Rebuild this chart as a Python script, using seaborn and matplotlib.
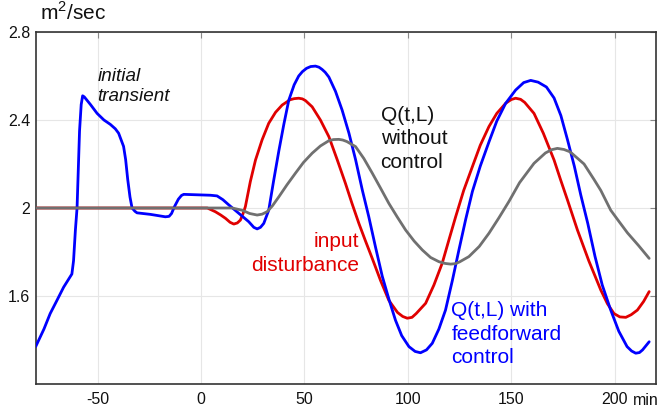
import matplotlib
matplotlib.use("Agg")
import matplotlib.pyplot as plt
import pandas as pd
import seaborn as sns

# Input disturbance entering the channel
t_input = [-80, 3, 6.9, 9.5, 11.8, 14, 15.8, 17.5, 19, 20.3, 21.4, 23.8, 26.3, 29.5,
           32.7, 36, 39.2, 43, 45, 47.2, 49, 50.5, 53.7, 57.7, 61.8, 65.8, 69.8, 73,
           76.3, 79.5, 82.8, 86.8, 90.8, 95, 97.5, 99.7, 102, 104, 108.6, 112.6,
           116.6, 120, 123.1, 127, 131.2, 135, 139.2, 143, 147.3, 150, 152.1, 154.5,
           156.5, 161, 165.5, 170.7, 173.9, 177.2, 182, 187.5, 193.3, 196.5, 199.7,
           202.5, 205.4, 208, 211, 214, 216.7]
q_input = [2.0, 2.0, 1.983, 1.968, 1.953, 1.935, 1.927, 1.932, 1.945, 1.975, 2.006,
           2.12, 2.218, 2.31, 2.385, 2.435, 2.468, 2.492, 2.497, 2.499, 2.496, 2.488,
           2.46, 2.40, 2.324, 2.22, 2.112, 2.02, 1.93, 1.85, 1.77, 1.67, 1.58, 1.525,
           1.507, 1.499, 1.503, 1.52, 1.567, 1.65, 1.749, 1.86, 1.96, 2.08, 2.188,
           2.285, 2.37, 2.43, 2.476, 2.493, 2.499, 2.494, 2.48, 2.43, 2.34, 2.218,
           2.127, 2.036, 1.90, 1.76, 1.627, 1.565, 1.52, 1.505, 1.503, 1.515, 1.536,
           1.575, 1.62]

# Downstream discharge Q(t,L) with feedforward control
t_ff = [-80, -76, -73, -70, -66.5, -63.5, -62.5, -61.7, -60.8, -60, -58.8, -58,
        -57.3, -56.5, -53.5, -50.3, -47, -43.9, -41.5, -39.9, -38.7, -37.5, -36.5,
        -35.5, -34.4, -33.4, -32, -31, -24.5, -17.3, -15.5, -14.3, -12.9, -11,
        -9.5, -8.4, 4.5, 7.7, 10.5, 13.4, 18.2, 23, 25.5, 27.1, 28.7, 30.3, 32.7,
        35, 37.6, 40, 42.4, 45, 47.2, 49, 51, 53, 55.3, 57, 58.5, 60, 61.8, 65,
        68.2, 71.5, 74.7, 78, 81.1, 84.4, 87.6, 91, 94, 97, 100.5, 103.5, 106.1,
        109, 111.8, 115, 118.2, 121.5, 124.7, 128, 131.2, 135, 139.2, 143, 147.3,
        152.1, 156, 159.4, 163, 167, 170.7, 174, 177.2, 180.5, 183.6, 187, 190.5,
        194, 198.1, 202, 206, 208.2, 210.2, 212, 213.5, 216.7]
q_ff = [1.37, 1.45, 1.52, 1.575, 1.64, 1.685, 1.70, 1.76, 1.90, 2.0, 2.35, 2.47,
        2.51, 2.505, 2.47, 2.43, 2.40, 2.38, 2.36, 2.34, 2.31, 2.28, 2.22, 2.13,
        2.05, 2.0, 1.985, 1.978, 1.971, 1.96, 1.962, 1.975, 2.006, 2.04, 2.057,
        2.062, 2.058, 2.055, 2.038, 2.014, 1.976, 1.938, 1.912, 1.905, 1.912,
        1.93, 1.99, 2.12, 2.26, 2.38, 2.49, 2.56, 2.60, 2.62, 2.635, 2.643, 2.645,
        2.64, 2.63, 2.617, 2.595, 2.53, 2.445, 2.34, 2.22, 2.08, 1.96, 1.82, 1.69,
        1.58, 1.49, 1.42, 1.37, 1.348, 1.342, 1.355, 1.385, 1.45, 1.536, 1.67,
        1.81, 1.95, 2.075, 2.19, 2.30, 2.395, 2.476, 2.536, 2.57, 2.58, 2.572,
        2.55, 2.50, 2.42, 2.31, 2.19, 2.06, 1.93, 1.78, 1.65, 1.536, 1.44, 1.37,
        1.35, 1.34, 1.343, 1.355, 1.392]

# Downstream discharge Q(t,L) without control
t_nc = [-80, 15, 19.8, 23.5, 27.1, 29.5, 31.9, 34.5, 37.6, 41.5, 45.6, 49.5, 53.7,
        57.7, 61.8, 64, 66.6, 68.5, 70.5, 74.7, 78.7, 82.8, 86.8, 90.8, 94.8, 98.9,
        103, 107, 111, 115, 118, 120.7, 123, 125, 129.5, 134.5, 139.2, 144, 148.9,
        154, 161, 166.5, 169.5, 172.3, 175.5, 178.5, 185.2, 190, 193.3, 198.1,
        202, 206.2, 211.5, 216.7]
q_nc = [2.0, 2.0, 1.99, 1.975, 1.968, 1.972, 1.983, 2.01, 2.051, 2.105, 2.158,
        2.207, 2.249, 2.282, 2.306, 2.311, 2.312, 2.309, 2.302, 2.279, 2.225,
        2.158, 2.09, 2.021, 1.96, 1.90, 1.85, 1.809, 1.775, 1.756, 1.748, 1.745,
        1.747, 1.755, 1.779, 1.825, 1.885, 1.955, 2.03, 2.115, 2.203, 2.25, 2.265,
        2.271, 2.266, 2.255, 2.20, 2.13, 2.08, 1.99, 1.94, 1.887, 1.83, 1.771]

x_ticks = [-50, 0, 50, 100, 150, 200]
x_tick_labels = ["-50", "0", "50", "100", "150", "200"]
y_ticks = [1.6, 2.0, 2.4, 2.8]
y_tick_labels = ["1.6", "2", "2.4", "2.8"]

sns.set_style("white")
plt.rcParams["font.family"] = ["Liberation Sans", "DejaVu Sans"]
plt.rcParams["mathtext.fontset"] = "custom"
plt.rcParams["mathtext.rm"] = "Liberation Sans"

fig = plt.figure(figsize=(6.58, 4.16), dpi=100)
ax = fig.add_axes([35.7 / 658, 1 - 384 / 416, (656 - 35.7) / 658, (384 - 32) / 416])

df_in = pd.DataFrame({"t": t_input, "q": q_input})
df_ff = pd.DataFrame({"t": t_ff, "q": q_ff})
df_nc = pd.DataFrame({"t": t_nc, "q": q_nc})

lw = 2.0
line_kw = dict(ax=ax, x="t", y="q", lw=lw, sort=False, estimator=None)
line_kw["solid_joinstyle"] = "round"
sns.lineplot(data=df_in, color="#e00000", zorder=3, **line_kw)
sns.lineplot(data=df_ff, color="#0000ff", zorder=4, **line_kw)
sns.lineplot(data=df_nc, color="#707070", zorder=5, **line_kw)

ax.set_xlim(-80, 220)
ax.set_ylim(1.2, 2.8)
ax.set_xticks(x_ticks)
ax.set_xticklabels(x_tick_labels)
ax.set_yticks(y_ticks)
ax.set_yticklabels(y_tick_labels)
ax.set_xlabel("")
ax.set_ylabel("")

ax.grid(True, color="#e6e6e6", lw=0.8, zorder=0)
ax.set_axisbelow(True)
for s in ax.spines.values():
    s.set_visible(True)
    s.set_color("#333333")
    s.set_linewidth(1.2)
ax.tick_params(direction="in", length=4, width=0.8, color="#888888",
               top=True, right=True, labelsize=11.5, labelcolor="#111111")
ax.tick_params(axis="x", pad=6)
ax.tick_params(axis="y", pad=4)

# curve annotations (y gives the baseline of the last line)
ax.text(-50.2, 2.486, "initial\ntransient", fontsize=13.6, style="italic",
        color="#111111", va="baseline", ha="left", linespacing=1.25)
ax.text(86.8, 2.182, "Q(t,L)\nwithout\ncontrol", fontsize=15, color="#111111",
        va="baseline", ha="left", linespacing=1.3)
ax.text(76.2, 1.715, "input\ndisturbance", fontsize=15, color="#e00000",
        va="baseline", ha="right", linespacing=1.3)
ax.text(121, 1.295, "Q(t,L) with\nfeedforward\ncontrol", fontsize=15,
        color="#0000ff", va="baseline", ha="left", linespacing=1.3)

# units
fig.text(40 / 658, 1 - 20 / 416, "m$^2$/sec", fontsize=15, color="#111111",
         va="baseline", ha="left")
fig.text(633 / 658, 1 - 405 / 416, "min", fontsize=11.5, color="#111111",
         va="baseline", ha="left")

fig.savefig("out.png", dpi=100)
